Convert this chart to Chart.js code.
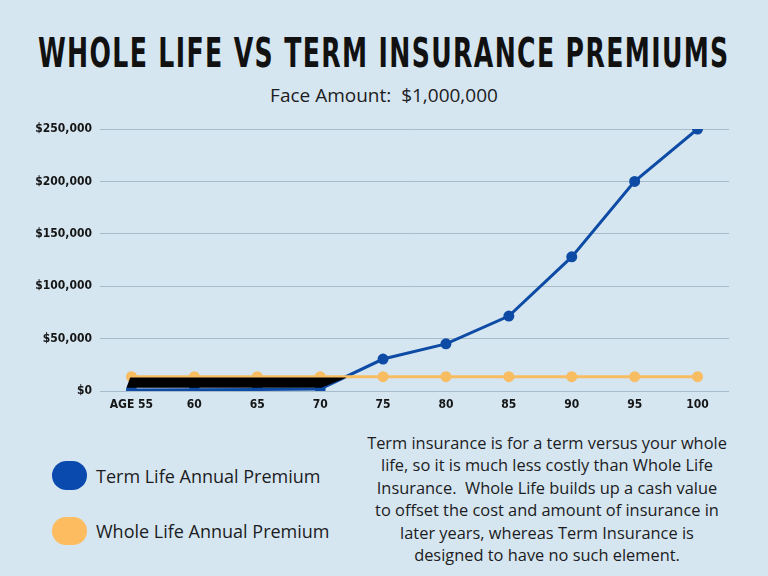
<!DOCTYPE html>
<html>
<head>
<meta charset="utf-8">
<script src="https://cdn.jsdelivr.net/npm/chart.js@4"></script>
<style>
  body { margin: 0; width: 768px; height: 576px; overflow: hidden; background: #d5e6f1; position: relative; font-family: "Open Sans", sans-serif; color: #1c1c22; }
  #title { position: absolute; left: 0; width: 768px; top: 33px; height: 41px; margin: 0;
           font-family: "DejaVu Sans Condensed", sans-serif; font-weight: bold;
           font-size: 41px; line-height: 41px; white-space: nowrap; color: #111; }
  #title span { position: absolute; top: 0; letter-spacing: 2px; transform-origin: center; }
  #sub { position: absolute; left: 0; width: 768px; top: 82px; text-align: center; font-size: 19px; white-space: pre; }
  #wrap { position: absolute; left: 0; top: 108px; width: 768px; height: 312px; }
  .key { position: absolute; left: 52px; display: flex; align-items: center; font-size: 18px; }
  .key span.dot { width: 35px; height: 29px; border-radius: 16px; margin-right: 9px; }
  #note { position: absolute; left: 347px; width: 400px; top: 432px; text-align: center; font-size: 16.4px; line-height: 22.4px; }
</style>
</head>
<body>
<h1 id="title"><span>WHOLE LIFE VS TERM INSURANCE PREMIUMS</span></h1>
<div id="sub">Face Amount:  $1,000,000</div>
<div id="wrap"><canvas id="chart"></canvas></div>
<div class="key" style="top:461px"><span class="dot" style="background:#0a49ad"></span>Term Life Annual Premium</div>
<div class="key" style="top:517px"><span class="dot" style="background:#fdbc5f;height:28px"></span>Whole Life Annual Premium</div>
<div id="note">Term insurance is for a term versus your whole<br>life, so it is much less costly than Whole Life<br>Insurance.&nbsp; Whole Life builds up a cash value<br>to offset the cost and amount of insurance in<br>later years, whereas Term Insurance is<br>designed to have no such element.</div>

<script>
// ages on the x axis
const ages = [55, 60, 65, 70, 75, 80, 85, 90, 95, 100];
const ageLabels = ["AGE 55", "60", "65", "70", "75", "80", "85", "90", "95", "100"];

// annual premiums ($)
const termPremium = [1000, 1200, 1500, 2000, 30500, 45000, 71500, 128000, 200000, 250000];
const wholePremium = [13700, 13700, 13700, 13700, 13700, 13700, 13700, 13700, 13700, 13700];

const yTicks = [0, 50000, 100000, 150000, 200000, 250000];

// the black marker stroke over ages 55-70 (top and bottom edges)
const markTopX = [54.6, 54.9, 72.1];
const markTopY = [3000, 13000, 13000];
const markBotX = [54.6, 70.1, 72.1];
const markBotY = [3000, 3000, 13000];

// squeeze the title onto one line like the condensed original
const titleSpan = document.querySelector("#title span");
const tw = titleSpan.offsetWidth;
titleSpan.style.left = (384 - tw / 2) + "px";
titleSpan.style.transform = "scaleX(" + (692 / tw) + ")";

const pts = (xs, ys) => xs.map((x, i) => ({ x, y: ys[i] }));
const tickFont = { family: "DejaVu Sans Condensed, sans-serif", weight: "bold", size: 12 };

new Chart(document.getElementById("chart"), {
  type: "line",
  data: {
    datasets: [
      {
        data: pts(markTopX, markTopY),
        borderWidth: 0, pointRadius: 0,
        backgroundColor: "#000", fill: "+1"
      },
      {
        data: pts(markBotX, markBotY),
        borderWidth: 0, pointRadius: 0
      },
      {
        data: pts(ages, wholePremium),
        borderColor: "#f8bd62", backgroundColor: "#f8bd62",
        borderWidth: 3, pointRadius: 4, pointHoverRadius: 4
      },
      {
        data: pts(ages, termPremium),
        borderColor: "#0d4ba5", backgroundColor: "#0d4ba5",
        borderWidth: 3, pointRadius: 4, pointHoverRadius: 4
      }
    ]
  },
  options: {
    responsive: true, maintainAspectRatio: false, animation: false,
    layout: { padding: { left: 0, right: 39, top: 21, bottom: 0 } },
    plugins: { legend: { display: false }, tooltip: { enabled: false } },
    scales: {
      x: {
        type: "linear", min: 52.5, max: 102.5,
        afterBuildTicks: (s) => { s.ticks = ages.map(v => ({ value: v })); },
        afterFit: (s) => { s.height = 29; },
        grid: { display: false, drawTicks: false },
        border: { display: false },
        ticks: {
          color: "#151515", font: tickFont, padding: 7, maxRotation: 0,
          callback: (v) => ageLabels[ages.indexOf(v)]
        }
      },
      y: {
        min: 0, max: 250000,
        afterBuildTicks: (s) => { s.ticks = yTicks.map(v => ({ value: v })); },
        afterFit: (s) => { s.width = 100; },
        grid: { color: "#a7bccb", lineWidth: 1, drawTicks: false },
        border: { display: false },
        ticks: {
          color: "#151515", font: tickFont, padding: 8,
          callback: (v) => "$" + v.toLocaleString("en-US")
        }
      }
    }
  }
});
</script>
</body>
</html>
